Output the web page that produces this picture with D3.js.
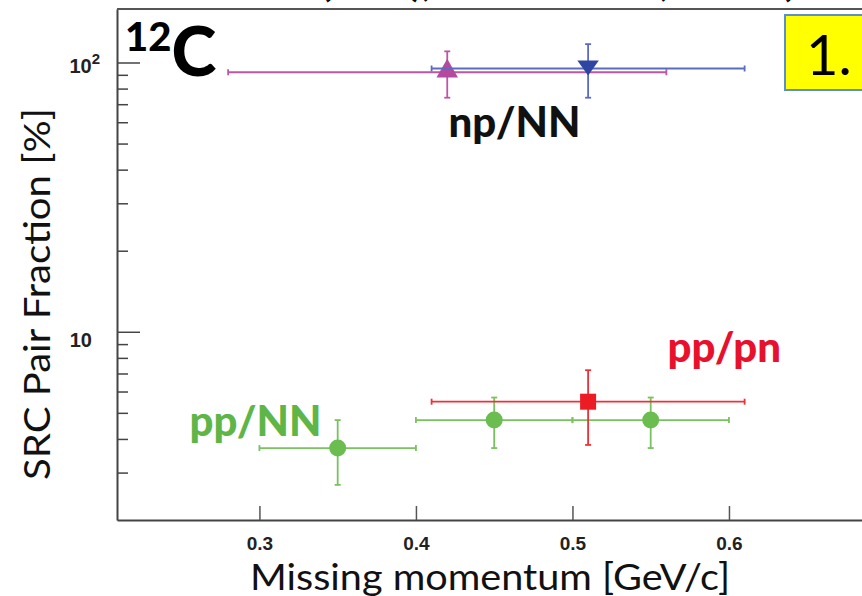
<!DOCTYPE html>
<html>
<head>
<meta charset="utf-8">
<script src="https://cdn.jsdelivr.net/npm/d3@7"></script>
<style>
  body { margin: 0; background: #fff; }
  svg { display: block; }
</style>
</head>
<body>
<svg width="862" height="596"></svg>
<script>
// values (SRC pair fractions for 12C, in %)
const npNNX = [0.42], npNNY = [92], npNNXerr = [0.14], npNNHi = [110], npNNLo = [74];
const npBlueX = [0.51], npBlueY = [95], npBlueXerr = [0.10], npBlueHi = [117], npBlueLo = [74];
const ppPnX = [0.51], ppPnY = [5.5], ppPnXerr = [0.10], ppPnHi = [7.2], ppPnLo = [3.8];
const ppNNX = [0.35, 0.45, 0.55], ppNNY = [3.7, 4.7, 4.7], ppNNXerr = [0.05, 0.05, 0.05];
const ppNNHi = [4.7, 5.7, 5.7], ppNNLo = [2.7, 3.7, 3.7];

const xTicks = [0.3, 0.4, 0.5, 0.6];
const yMajor = [10, 100];
const yMinor = [3, 4, 5, 6, 7, 8, 9, 20, 30, 40, 50, 60, 70, 80, 90];
const topFragments = ['(', '),', ',', '('];

const svg = d3.select('svg');
const mLeft = 117, mTop = 9, mBottom = 520, mRight = 862;

const x = d3.scaleLinear().domain([0.209, 0.685]).range([mLeft, mRight]);
const y = d3.scaleLog().domain([2, 158]).range([mBottom, mTop]);

const toPts = (xs, ys, xe, hi, lo) => xs.map((v, i) => ({x: v, y: ys[i], xe: xe[i], hi: hi[i], lo: lo[i]}));

const series = [
  {pts: toPts(npNNX, npNNY, npNNXerr, npNNHi, npNNLo), bar: '#bf55a3', fill: '#b44a9e', shape: 'up'},
  {pts: toPts(npBlueX, npBlueY, npBlueXerr, npBlueHi, npBlueLo), bar: '#5a6cc2', fill: '#2f45a2', shape: 'down'},
  {pts: toPts(ppNNX, ppNNY, ppNNXerr, ppNNHi, ppNNLo), bar: '#78c260', fill: '#6bbd50', shape: 'circle'},
  {pts: toPts(ppPnX, ppPnY, ppPnXerr, ppPnHi, ppPnLo), bar: '#ef3038', fill: '#ec1c24', shape: 'square'}
];

// cut off title at the very top (only the bottoms of a few glyphs show)
const fragX = [0.339, 0.397, 0.556, 0.633];
svg.selectAll('.frag').data(topFragments).enter().append('text')
  .attr('class', 'frag')
  .attr('x', (d, i) => x(fragX[i]))
  .attr('y', -4)
  .attr('font-family', 'Lato, sans-serif')
  .attr('font-weight', 700)
  .attr('font-size', 40)
  .text(d => d);

// axes
const xAxis = d3.axisBottom(x).tickValues(xTicks).tickSizeInner(-14).tickSizeOuter(0)
  .tickPadding(17).tickFormat(d3.format('.1f'));
const gx = svg.append('g').attr('transform', `translate(0,${mBottom})`).call(xAxis);
gx.select('.domain').attr('stroke', '#444').attr('stroke-width', 2);
gx.selectAll('.tick line').attr('stroke', '#555').attr('stroke-width', 1.5);
gx.selectAll('.tick text')
  .attr('font-family', '"Liberation Sans Narrow", "Liberation Sans", sans-serif')
  .attr('font-weight', 700).attr('font-size', 19).attr('fill', '#222');

const yAxis = d3.axisLeft(y).tickValues(yMajor).tickSizeInner(-23).tickSizeOuter(0)
  .tickPadding(25).tickFormat(() => '');
const gy = svg.append('g').attr('transform', `translate(${mLeft},0)`).call(yAxis);
gy.select('.domain').attr('stroke', '#444').attr('stroke-width', 2);
gy.selectAll('.tick line').attr('stroke', '#444').attr('stroke-width', 1.5);
gy.selectAll('.tick text').each(function(d) {
  const t = d3.select(this)
    .attr('font-family', '"Liberation Sans Narrow", "Liberation Sans", sans-serif')
    .attr('font-weight', 700).attr('font-size', 20).attr('fill', '#222')
    .attr('dy', d === 100 ? '0.5em' : '0.75em');
  if (d === 100) {
    t.attr('x', -17);
    t.append('tspan').text('10');
    t.append('tspan').attr('dy', '-0.6em').attr('font-size', 15).text('2');
  } else {
    t.text('10');
  }
});

const gyMinor = svg.append('g').attr('transform', `translate(${mLeft},0)`)
  .call(d3.axisLeft(y).tickValues(yMinor).tickSizeInner(-11).tickSizeOuter(0).tickFormat(''));
gyMinor.select('.domain').remove();
gyMinor.selectAll('.tick line').attr('stroke', '#444').attr('stroke-width', 1.5);

// top frame line
svg.append('line')
  .attr('x1', x.range()[0]).attr('x2', x.range()[1])
  .attr('y1', y.range()[1]).attr('y2', y.range()[1])
  .attr('stroke', '#555').attr('stroke-width', 2);

// error bars and markers
const cap = 3;
series.forEach(s => {
  const g = svg.append('g');
  const pts = g.selectAll('g').data(s.pts).enter().append('g');
  pts.append('line')
    .attr('x1', d => x(d.x - d.xe)).attr('x2', d => x(d.x + d.xe))
    .attr('y1', d => y(d.y)).attr('y2', d => y(d.y));
  pts.append('line')
    .attr('x1', d => x(d.x)).attr('x2', d => x(d.x))
    .attr('y1', d => y(d.hi)).attr('y2', d => y(d.lo));
  [d => d.x - d.xe, d => d.x + d.xe].forEach(f => {
    pts.append('line')
      .attr('x1', d => x(f(d))).attr('x2', d => x(f(d)))
      .attr('y1', d => y(d.y) - cap).attr('y2', d => y(d.y) + cap);
  });
  [d => d.hi, d => d.lo].forEach(f => {
    pts.append('line')
      .attr('x1', d => x(d.x) - cap).attr('x2', d => x(d.x) + cap)
      .attr('y1', d => y(f(d))).attr('y2', d => y(f(d)));
  });
  pts.selectAll('line').attr('stroke', s.bar).attr('stroke-width', 1.8);

  if (s.shape === 'circle') {
    pts.append('circle').attr('cx', d => x(d.x)).attr('cy', d => y(d.y)).attr('r', 8.5).attr('fill', s.fill);
  } else if (s.shape === 'square') {
    pts.append('rect').attr('x', d => x(d.x) - 8).attr('y', d => y(d.y) - 8)
      .attr('width', 16).attr('height', 16).attr('fill', s.fill);
  } else if (s.shape === 'up') {
    pts.append('path').attr('d', d3.symbol(d3.symbolTriangle, 200))
      .attr('transform', d => `translate(${x(d.x)},${y(d.y) - 1})`).attr('fill', s.fill);
  } else {
    pts.append('path').attr('d', d3.symbol(d3.symbolTriangle, 200))
      .attr('transform', d => `translate(${x(d.x)},${y(d.y) - 3}) scale(1,0.8) rotate(180)`).attr('fill', s.fill);
  }
});

// series labels
const labels = [
  {t: 'np/NN', x: 0.463, y: 53, c: '#111'},
  {t: 'pp/pn', x: 0.597, y: 7.7, c: '#e8112d'},
  {t: 'pp/NN', x: 0.2975, y: 4.1, c: '#5db647'}
];
svg.selectAll('.lab').data(labels).enter().append('text')
  .attr('x', d => x(d.x)).attr('y', d => y(d.y))
  .attr('text-anchor', 'middle')
  .attr('font-family', 'Lato, sans-serif').attr('font-weight', 900).attr('font-size', 42)
  .attr('fill', d => d.c).text(d => d.t);

// nucleus label
const nuc = svg.append('text').attr('x', 125).attr('y', 76)
  .attr('font-family', 'Lato, sans-serif').attr('font-weight', 900).attr('fill', '#000');
nuc.append('tspan').attr('font-size', 40).attr('dy', -25).text('12');
nuc.append('tspan').attr('font-size', 68).attr('dy', 25).text('C');

// yellow box
svg.append('rect').attr('x', 785).attr('y', 15).attr('width', 100).attr('height', 75)
  .attr('fill', '#ffff00').attr('stroke', '#5b8fcf').attr('stroke-width', 2);
svg.append('text').attr('x', 806).attr('y', 75)
  .attr('font-family', 'Lato, sans-serif').attr('font-size', 56).attr('fill', '#000').text('1.');

// axis titles
svg.append('text').attr('x', 490).attr('y', 590).attr('text-anchor', 'middle')
  .attr('font-family', 'Lato, sans-serif').attr('font-size', 36).attr('fill', '#111')
  .attr('textLength', 480).attr('lengthAdjust', 'spacingAndGlyphs')
  .text('Missing momentum [GeV/c]');
svg.append('text').attr('transform', 'translate(50,294) rotate(-90)').attr('text-anchor', 'middle')
  .attr('font-family', 'Lato, sans-serif').attr('font-size', 36).attr('fill', '#111')
  .attr('textLength', 372).attr('lengthAdjust', 'spacingAndGlyphs')
  .text('SRC Pair Fraction [%]');
</script>
</body>
</html>
